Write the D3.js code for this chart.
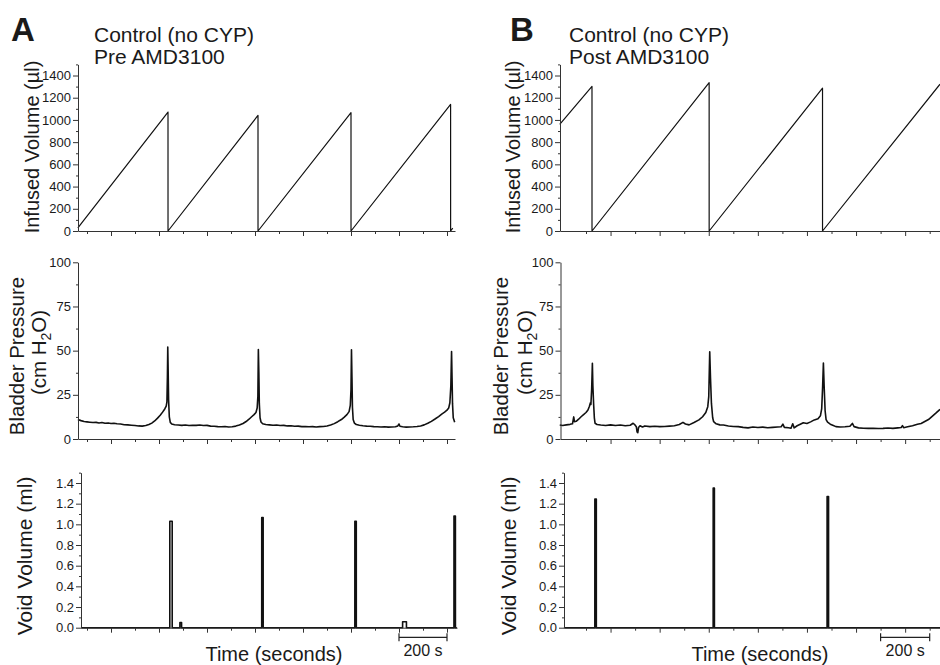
<!DOCTYPE html>
<html><head><meta charset="utf-8">
<script src="https://cdn.jsdelivr.net/npm/d3@7"></script>
<style>
body{margin:0;background:#fff}
svg{display:block}
text{font-family:"Liberation Sans",Arial,Helvetica,sans-serif;fill:#1a1a1a}
</style>
</head><body>
<svg id="chart" width="940" height="665"></svg>
<script>
// ---------------- DATA ----------------
const panelLetters = ["A", "B"];
const titleLine1 = ["Control (no CYP)", "Control (no CYP)"];
const titleLine2 = ["Pre AMD3100", "Post AMD3100"];

const infusedTicks = [0, 200, 400, 600, 800, 1000, 1200, 1400];
const infusedMinor = [100, 300, 500, 700, 900, 1100, 1300, 1500];
const pressureTicks = [0, 25, 50, 75, 100];
const pressureMinor = [12.5, 37.5, 62.5, 87.5];
const voidTicks = [0, 0.2, 0.4, 0.6, 0.8, 1.0, 1.2, 1.4];
const voidMinor = [0.1, 0.3, 0.5, 0.7, 0.9, 1.1, 1.3, 1.5];

const timeTicksA = [0,100,200,300,400,500,600,700,800,900,1000,1100,1200,1300,1400,1500];
const timeTicksB = [0,100,200,300,400,500,600,700,800,900,1000,1100,1200,1300,1400];
const scaleBarA = [1300, 1500];
const scaleBarB = [1200, 1400];

// Infused volume (µl) vs time (s)
const infA_t = [-38, 337.5, 337.6, 712.5, 712.6, 1100, 1100.1, 1515, 1515.1, 1524];
const infA_v = [28, 1071, 0, 1041, 0, 1065, 0, 1140, 0, 25];
const infB_t = [-107, 24.4, 24.5, 501.6, 501.7, 963.4, 963.5, 1442];
const infB_v = [960, 1302, 0, 1335, 0, 1286, 0, 1322];

// Bladder pressure (cm H2O) vs time (s)
const presA_t = [-38,-25,-12,0,12,25,38,50,62,75,88,100,112,125,140,155,170,185,200,215,230,245,258,270,282,294,305,315,324,330,333,335,336.5,338,340,343,347,353,365,380,395,410,425,440,455,470,485,500,515,530,545,560,575,590,605,620,635,650,663,675,686,696,704,709,712,714,716,718,721,725,732,745,760,775,790,805,820,835,850,865,880,895,910,925,940,955,970,985,1000,1015,1030,1045,1060,1072,1083,1092,1097,1100,1102,1104,1106,1109,1114,1122,1135,1150,1165,1180,1195,1210,1225,1240,1255,1270,1285,1295,1300,1304,1315,1330,1345,1360,1375,1390,1405,1420,1435,1450,1465,1478,1490,1500,1507,1512,1516,1519,1521,1523,1526,1532];
const presA_v = [11.0,10.4,9.9,9.7,9.5,9.3,9.4,9.1,9.3,8.9,9.1,8.8,8.9,8.6,8.5,8.1,8.0,7.8,7.6,7.4,7.3,7.6,8.2,9.0,10.2,11.8,13.4,15.2,17.0,18.6,21.0,35.0,52.0,40.0,22.0,12.5,9.4,8.5,8.1,7.9,7.7,7.9,7.6,7.8,7.7,7.9,7.6,7.7,7.3,7.2,7.0,6.9,7.1,6.8,6.9,7.3,7.9,8.8,9.9,11.2,12.6,13.8,15.0,17.5,24.0,50.6,38.0,20.0,12.0,9.6,8.6,8.2,8.0,7.8,7.9,7.6,7.7,7.4,7.5,7.2,7.3,7.0,7.1,6.9,7.0,6.8,7.0,7.1,7.4,7.9,8.7,9.8,11.0,12.4,13.8,15.5,19.0,28.0,50.5,35.0,18.0,11.0,9.0,8.2,7.8,7.5,7.3,7.2,7.0,6.9,6.8,6.9,6.7,6.8,6.9,7.4,8.5,7.2,6.9,6.7,6.8,6.9,7.1,7.4,8.0,8.9,10.0,11.3,12.7,14.1,15.2,16.3,17.5,20.5,30.0,49.5,35.0,20.0,12.0,9.5];

const presB_t = [-107,-95,-80,-65,-55,-50,-47,-40,-30,-20,-10,0,8,14,18,20,23,26,28,31,34,37,45,60,80,100,120,140,160,180,192,198,205,208,211,214,220,230,240,260,280,300,320,340,360,380,395,405,420,440,460,475,488,496,500,504,507,511,516,520,530,545,560,580,600,620,640,660,680,700,720,740,760,780,795,802,808,825,835,842,848,860,875,885,900,915,930,945,955,960,964,967,970,974,978,984,995,1005,1018,1035,1055,1075,1085,1092,1110,1130,1150,1170,1190,1210,1230,1250,1270,1284,1289,1294,1310,1330,1350,1365,1380,1395,1410,1425,1442];
const presB_v = [7.9,7.6,8.0,8.3,8.6,12.5,9.8,10.0,11.2,12.6,13.8,15.0,16.4,18.5,20.5,19.5,28,42.8,30,20,12,8.9,8.2,7.9,7.6,8.0,7.6,7.9,7.5,7.8,8.9,8.2,7.0,4.0,3.6,6.5,7.5,6.8,7.4,7.0,7.2,7.0,7.1,7.3,7.5,8.2,9.4,8.5,8.0,9.3,10.8,12.6,15.0,18.3,24,49.4,35,20,12,9.8,8.6,8.0,7.9,7.4,7.1,7.0,6.6,6.3,6.8,6.5,6.7,6.4,6.6,6.8,6.9,8.4,6.6,6.4,6.1,8.6,6.3,7.5,8.5,9.2,8.8,9.7,10.8,11.5,13.2,17,30,43,30,16,11,9.5,8.4,7.8,7.0,6.8,6.9,7.2,8.8,7.0,6.3,6.1,6.0,6.1,5.9,6.0,6.2,6.0,6.3,6.5,7.6,6.4,6.9,7.5,8.3,8.8,9.9,11.0,12.8,14.6,16.8];

// Void volume (ml) vs time (s)
const voidA_t = [-25, 345, 345.1, 355, 355.1, 387, 387.1, 394, 394.1, 728, 728.1, 734, 734.1, 1116, 1116.1, 1122, 1122.1, 1315, 1315.1, 1331, 1331.1, 1529, 1529.1, 1535, 1535.1, 1541];
const voidA_v = [0, 0, 1.03, 1.03, 0, 0, 0.05, 0.05, 0, 0, 1.065, 1.065, 0, 0, 1.03, 1.03, 0, 0, 0.058, 0.058, 0, 0, 1.08, 1.08, 0, 0];
const voidB_t = [-90, 36, 36.1, 42, 42.1, 518, 518.1, 523, 523.1, 982, 982.1, 988, 988.1, 1442];
const voidB_v = [0, 0, 1.245, 1.245, 0, 0, 1.35, 1.35, 0, 0, 1.27, 1.27, 0, 0];

// ---------------- LAYOUT ----------------
const svg = d3.select("#chart");
const AXIS = "#333", LINE = "#111";
const FONT_TICK = 13;

const cols = [
  { t0: 87, k: 0.24, axL: [78, 78, 81], axR: [455, 455, 457], ticks: timeTicksA, bar: scaleBarA,
    inf: [infA_t, infA_v], pres: [presA_t, presA_v], vd: [voidA_t, voidA_v],
    letterX: 11, titleX: 94, timeX: 274,
    labInf: 39, labP1: 23.5, labP2: 45.6, labV: 32 },
  { t0: 586, k: 0.2455, axL: [560, 560.5, 564], axR: [940, 940, 940], ticks: timeTicksB, bar: scaleBarB,
    inf: [infB_t, infB_v], pres: [presB_t, presB_v], vd: [voidB_t, voidB_v],
    letterX: 510, titleX: 569, timeX: 760,
    labInf: 520, labP1: 508.3, labP2: 532, labV: 516 }
];

const rows = [
  { dom: [0, 1500], y0: 231, yRef: 75.5, refV: 1400, major: infusedTicks, minor: infusedMinor, fmt: d3.format("d"), key: "inf", sw: 1.2 },
  { dom: [0, 100], y0: 439, yRef: 262.3, refV: 100, major: pressureTicks, minor: pressureMinor, fmt: d3.format("d"), key: "pres", sw: 1.6 },
  { dom: [0, 1.5], y0: 627.7, yRef: 483, refV: 1.4, major: voidTicks, minor: voidMinor, fmt: d3.format(".1f"), key: "vd", sw: 1.6 }
];

cols.forEach((c, ci) => {
  const x = d3.scaleLinear().domain([0, 100]).range([c.t0, c.t0 + 100 * c.k]);
  rows.forEach((r, ri) => {
    const y = d3.scaleLinear().domain([0, r.refV]).range([r.y0, r.yRef]);
    const yTop = y(r.dom[1]);
    const left = c.axL[ri], right = c.axR[ri];
    const g = svg.append("g");

    // data line
    const [tt, vv] = c[r.key];
    const pts = d3.zip(tt, vv);
    const line = d3.line().x(d => x(d[0])).y(d => y(d[1]));
    g.append("path").datum(pts).attr("d", line)
      .attr("fill", "none").attr("stroke", LINE).attr("stroke-width", r.sw)
      .attr("stroke-linejoin", "round");

    // y axis
    const yAx = y.copy().domain(r.dom).range([r.y0, yTop]);
    const gy = g.append("g").attr("transform", `translate(${left},0)`);
    gy.call(d3.axisLeft(yAx).tickValues(r.major).tickSize(5).tickSizeOuter(0).tickPadding(2).tickFormat(r.fmt));
    gy.append("g").call(d3.axisLeft(yAx).tickValues(r.minor).tickSize(2).tickSizeOuter(0).tickFormat(""))
      .select(".domain").remove();
    gy.selectAll("path,line").attr("stroke", AXIS);
    gy.selectAll("text").attr("font-size", FONT_TICK).attr("fill", "#1a1a1a")
      .style("font-family", "'Liberation Sans', Arial, sans-serif");

    // x axis
    const xAx = x.copy().domain([x.invert(left), x.invert(right)]).range([left, right]);
    const gx = g.append("g").attr("transform", `translate(0,${r.y0})`);
    gx.call(d3.axisBottom(xAx).tickValues(c.ticks.filter(t => (t / 100) % 2 === 0)).tickSize(3).tickSizeOuter(0).tickFormat(""));
    gx.append("g").call(d3.axisBottom(xAx).tickValues(c.ticks.filter(t => (t / 100) % 2 === 1)).tickSize(5).tickSizeOuter(0).tickFormat(""))
      .select(".domain").remove();
    gx.selectAll("path,line").attr("stroke", AXIS);

    if (ri === 2) {
      // scale bar
      const sb = g.append("g").attr("stroke", "#222").attr("stroke-width", 1.2);
      const x1 = x(c.bar[0]), x2 = x(c.bar[1]), yb = 637.3;
      sb.append("line").attr("x1", x1).attr("x2", x2).attr("y1", yb).attr("y2", yb);
      sb.append("line").attr("x1", x1).attr("x2", x1).attr("y1", yb - 4).attr("y2", yb + 4);
      sb.append("line").attr("x1", x2).attr("x2", x2).attr("y1", yb - 4).attr("y2", yb + 4);
      g.append("text").attr("x", (x1 + x2) / 2).attr("y", 656).attr("text-anchor", "middle")
        .attr("font-size", 16).text((c.bar[1] - c.bar[0]) + " s");
    }
  });

  // y labels
  svg.append("text").attr("transform", `translate(${c.labInf},147) rotate(-90)`)
    .attr("text-anchor", "middle").attr("font-size", 20).text("Infused Volume (µl)");
  svg.append("text").attr("transform", `translate(${c.labP1},356) rotate(-90)`)
    .attr("text-anchor", "middle").attr("font-size", 20.5).text("Bladder Pressure");
  const t2 = svg.append("text").attr("transform", `translate(${c.labP2},352.5) rotate(-90)`)
    .attr("text-anchor", "middle").attr("font-size", 20.5);
  t2.append("tspan").text("(cm H");
  t2.append("tspan").attr("font-size", 14).attr("dy", 5).text("2");
  t2.append("tspan").attr("dy", -5).text("O)");
  svg.append("text").attr("transform", `translate(${c.labV},556) rotate(-90)`)
    .attr("text-anchor", "middle").attr("font-size", 21).text("Void Volume (ml)");

  // titles
  svg.append("text").attr("x", c.letterX).attr("y", 41).attr("font-size", 33)
    .attr("font-weight", "bold").attr("fill", "#111").text(panelLetters[ci]);
  svg.append("text").attr("x", c.titleX).attr("y", 41.5).attr("font-size", 21).text(titleLine1[ci]);
  svg.append("text").attr("x", c.titleX).attr("y", 64).attr("font-size", 21).text(titleLine2[ci]);

  // time label
  svg.append("text").attr("x", c.timeX).attr("y", 661).attr("text-anchor", "middle")
    .attr("font-size", 20).text("Time (seconds)");
});
</script>
</body></html>
